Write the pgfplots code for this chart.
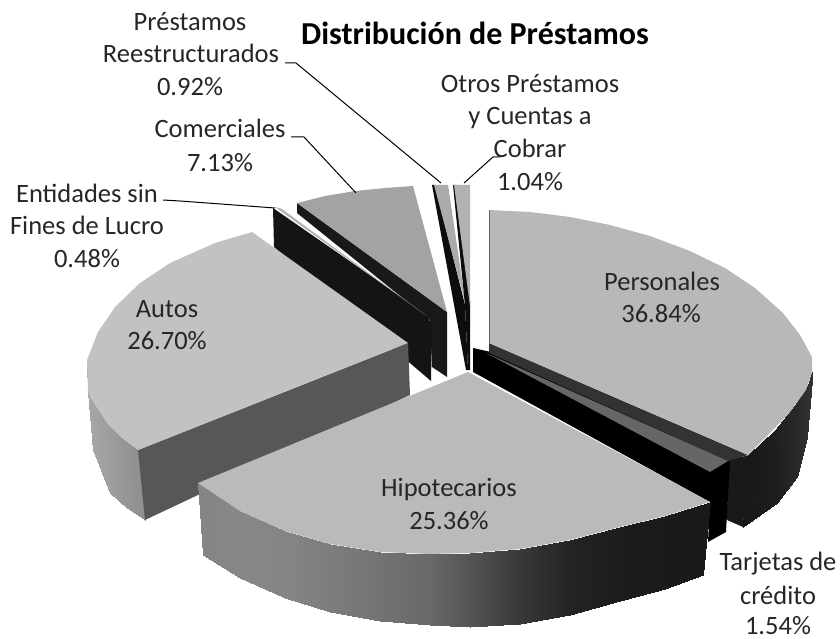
\documentclass[border=0pt]{standalone}
\usepackage{pgfplots}
\pgfplotsset{compat=1.18}
\usepackage{fontspec}
\setmainfont{Carlito}
\newcommand{\lab}[3]{\node[anchor=base,inner sep=0pt,text=black!85] at (axis cs:#1,#2) {\fontsize{26.5}{26.5}\selectfont #3};}
\pgfplotsset{wall/.style={patch,patch type=rectangle,shader=interp,colormap/blackwhite,forget plot}}
\begin{document}
\begin{tikzpicture}
\begin{axis}[scale only axis,width=840pt,height=639pt,xmin=0,xmax=840,ymin=0,ymax=639,y dir=reverse,hide axis,clip=false,point meta min=0,point meta max=1,colormap/blackwhite]
\path (axis cs:0,0) rectangle (axis cs:840,639);
% Comerciales
\addplot[fill=black!90,draw=none] coordinates {(297,203)(447,312)(447,377)(432,367)(430,320)(297,213)} -- cycle;
\addplot[fill=black!36,draw=none] coordinates {(297,203)(325,196)(355,191)(385,188)(413,186)(447,312)} -- cycle;
% Entidades
\addplot[fill=black!92,draw=none] coordinates {(273,208)(426,314)(432,325)(431,381)(274,247)} -- cycle;
\addplot[fill=black!30,draw=none] coordinates {(275,207)(282,209)(427,316)} -- cycle;
% Prestamos reestructurados
\addplot[fill=black!95,draw=none] coordinates {(432,185)(435,185)(465,305)(468,370)(466,370)} -- cycle;
\addplot[fill=black!33,draw=none] coordinates {(434,185)(448,185)(466,306)} -- cycle;
% Otros
\addplot[fill=black!95,draw=none] coordinates {(453,185)(457,185)(470,300)(470,370)(468,370)(465,305)} -- cycle;
\addplot[fill=black!30,draw=none] coordinates {(454,185)(470,185)(470,306)} -- cycle;
% Personales wall
\addplot[fill=black!90,draw=none] coordinates {(728,460)(750,455)(743,527)(727,520)} -- cycle;
\addplot[wall] table[point meta=\thisrow{c}] {
x y c
748 455 0.09
775 430 0.12
777 503 0.12
743 527 0.09
775 430 0.12
795 405 0.16
797 477 0.16
777 503 0.12
795 405 0.16
808 385 0.19
807 437 0.19
797 477 0.16
808 385 0.19
812 372 0.2
812 380 0.2
807 437 0.19
};
% Tarjetas
\addplot[fill=black,draw=none] coordinates {(473,348)(491,352)(730,462)(726,532)(708,542)(710,502)(473,372)} -- cycle;
\addplot[fill=black!60,draw=none] coordinates {(486,353)(728,461)(710,472)} -- cycle;
% Personales
\addplot[fill=black!80,draw=none] coordinates {(489,343)(748,455)(728,461)(489,353)} -- cycle;
\addplot[fill=black!28,draw=none] coordinates {(489,210)(530,212)(570,217)(610,225)(650,236)(690,251)(725,268)(755,288)(783,313)(800,335)(812,357)(812,372)(806,390)(790,412)(770,433)(748,455)(489,343)} -- cycle;
\addplot[black!60,line width=0.6pt] coordinates {(489,210)(489,343)};
% Autos
\addplot[wall] table[point meta=\thisrow{c}] {
x y c
87 363 0.66
88 390 0.66
88 392 0.66
87 363 0.66
88 390 0.66
90 397 0.65
93 450 0.65
88 392 0.66
90 397 0.65
107 423 0.62
110 493 0.62
93 450 0.65
107 423 0.62
122 438 0.59
127 508 0.59
110 493 0.62
122 438 0.59
138 450 0.56
145 520 0.56
127 508 0.59
};
\addplot[fill=black!66,draw=none] coordinates {(138,450)(408,343)(410,395)(145,520)} -- cycle;
\addplot[fill=black!24,draw=none] coordinates {(252,232)(215,243)(170,263)(140,283)(115,307)(98,332)(87,360)(88,390)(90,397)(107,423)(122,438)(138,450)(408,343)} -- cycle;
% Hipotecarios wall
\addplot[wall] table[point meta=\thisrow{c}] {
x y c
198 483 0.52
240 511 0.53
240 578 0.53
203 555 0.52
240 511 0.53
285 531 0.52
285 598 0.52
240 578 0.53
285 531 0.52
330 544 0.49
330 612 0.49
285 598 0.52
330 544 0.49
380 552 0.45
380 621 0.45
330 612 0.49
380 552 0.45
430 554 0.41
430 625 0.41
380 621 0.45
430 554 0.41
470 553 0.33
470 627 0.33
430 625 0.41
470 553 0.33
520 549 0.22
520 624 0.22
470 627 0.33
520 549 0.22
570 540 0.14
570 615 0.14
520 624 0.22
570 540 0.14
620 527 0.11
620 601 0.11
570 615 0.14
620 527 0.11
665 516 0.1
665 589 0.1
620 601 0.11
665 516 0.1
710 502 0.1
703 575 0.1
665 589 0.1
};
\addplot[fill=black!27,draw=none] coordinates {(468,372)(710,502)(665,516)(620,527)(570,540)(520,549)(470,553)(430,554)(380,552)(330,544)(285,531)(240,511)(198,483)} -- cycle;
% leaders
\addplot[black,line width=1pt] coordinates {(285,63)(296,63)(441,183)};
\addplot[black,line width=1pt] coordinates {(291,137)(304,137)(356,193)};
\addplot[black,line width=1pt] coordinates {(163,200)(180,201)(275,208)};
\addplot[black,line width=1pt] coordinates {(464,183)(493,157)(500,157)};
% text
\lab{190}{31}{Préstamos}
\lab{191}{63}{Reestructurados}
\lab{190}{96}{0.92\%}
\node[anchor=base,inner sep=0pt] at (axis cs:475,45) {\fontsize{32}{32}\selectfont\bfseries Distribución de Préstamos};
\lab{530}{93}{Otros Préstamos}
\lab{530}{125}{y Cuentas a}
\lab{530}{158}{Cobrar}
\lab{530}{191}{1.04\%}
\lab{220}{138}{Comerciales}
\lab{220}{172}{7.13\%}
\lab{87}{202}{Entidades sin}
\lab{87}{234}{Fines de Lucro}
\lab{87}{267}{0.48\%}
\lab{167}{317}{Autos}
\lab{167}{349}{26.70\%}
\lab{662}{290}{Personales}
\lab{661}{322}{36.84\%}
\lab{449}{496}{Hipotecarios}
\lab{449}{529}{25.36\%}
\lab{778}{570}{Tarjetas de}
\lab{778}{604}{crédito}
\lab{778}{634}{1.54\%}
\end{axis}
\end{tikzpicture}
\end{document}
